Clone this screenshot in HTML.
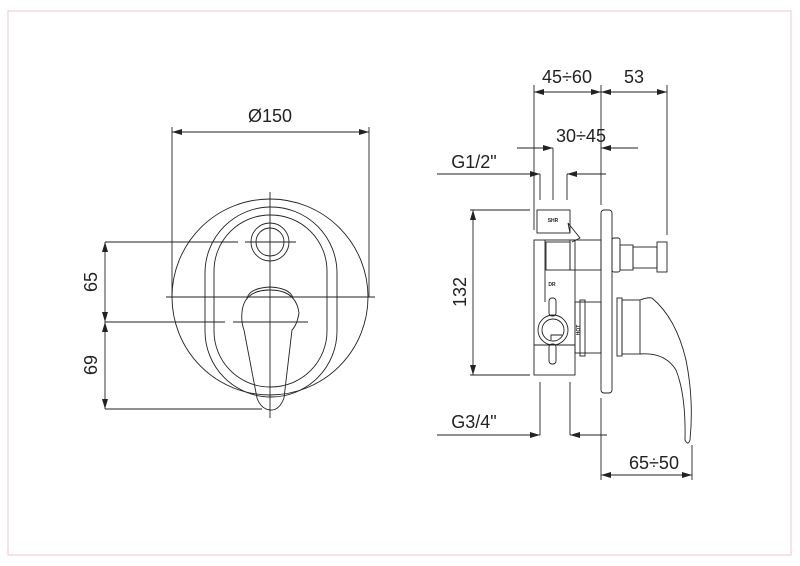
<!DOCTYPE html>
<html><head><meta charset="utf-8"><style>
html,body{margin:0;padding:0;background:#fff}
svg{display:block}
text{font-family:"Liberation Sans",sans-serif;fill:#222}
</style></head><body>
<svg width="800" height="566" viewBox="0 0 800 566" xmlns="http://www.w3.org/2000/svg">
<defs>
<marker id="a" viewBox="0 0 10 6" refX="10" refY="3" markerWidth="10" markerHeight="6" orient="auto-start-reverse" markerUnits="userSpaceOnUse"><path d="M0,0L10,3L0,6z" fill="#222"/></marker>
</defs>
<rect x="8" y="11" width="783" height="544" fill="none" stroke="#f2c4cf" stroke-width="1"/>
<g fill="none" stroke="#222" stroke-width="0.9">
<line x1="172" y1="127" x2="172" y2="297"/>
<line x1="369" y1="127" x2="369" y2="297"/>
<line x1="172" y1="132" x2="369" y2="132" marker-start="url(#a)" marker-end="url(#a)"/>
<circle cx="270" cy="297" r="98"/>
<rect x="205" y="207" width="132" height="190" rx="66"/>
<rect x="214" y="215" width="113" height="172" rx="56"/>
<circle cx="270" cy="242" r="19"/>
<circle cx="270" cy="242" r="14"/>
<line x1="270" y1="192" x2="270" y2="418"/>
<line x1="166" y1="297" x2="375" y2="297"/>
<line x1="105" y1="242" x2="238" y2="242"/>
<line x1="245" y1="242" x2="296" y2="242"/>
<line x1="105" y1="322" x2="225" y2="322"/>
<line x1="233" y1="322" x2="308" y2="322"/>
<line x1="105" y1="409" x2="262" y2="409"/>
<line x1="105" y1="242" x2="105" y2="322" marker-start="url(#a)" marker-end="url(#a)"/>
<line x1="105" y1="322" x2="105" y2="409" marker-start="url(#a)" marker-end="url(#a)"/>
<path d="M247,298 Q250,288 270,287 Q290,288 293,298"/>
<path d="M242,312 Q244,290 270,290 Q296,290 299,313 Q297,325 292,330 L284,398 Q279,411 270,410 Q261,409 257,398 L244,330 Q241,322 242,312Z"/>
<line x1="534" y1="85" x2="534" y2="230"/>
<line x1="601" y1="85" x2="601" y2="205"/>
<line x1="667" y1="85" x2="667" y2="235"/>
<line x1="534" y1="92" x2="601" y2="92" marker-start="url(#a)" marker-end="url(#a)"/>
<line x1="601" y1="92" x2="667" y2="92" marker-start="url(#a)" marker-end="url(#a)"/>
<line x1="517" y1="148" x2="553" y2="148" marker-end="url(#a)"/>
<line x1="638" y1="148" x2="601" y2="148" marker-end="url(#a)"/>
<line x1="553" y1="148" x2="553" y2="200"/>
<line x1="437" y1="174" x2="540" y2="174" marker-end="url(#a)"/>
<line x1="606" y1="174" x2="567" y2="174" marker-end="url(#a)"/>
<line x1="540" y1="174" x2="540" y2="200"/>
<line x1="567" y1="174" x2="567" y2="200"/>
<line x1="470" y1="210" x2="530" y2="210"/>
<line x1="470" y1="375" x2="530" y2="375"/>
<line x1="473" y1="210" x2="473" y2="375" marker-start="url(#a)" marker-end="url(#a)"/>
<line x1="437" y1="435" x2="540" y2="435" marker-end="url(#a)"/>
<line x1="607" y1="435" x2="570" y2="435" marker-end="url(#a)"/>
<line x1="540" y1="382" x2="540" y2="435"/>
<line x1="570" y1="382" x2="570" y2="435"/>
<line x1="601" y1="398" x2="601" y2="480"/>
<line x1="692" y1="445" x2="692" y2="480"/>
<line x1="601" y1="475" x2="692" y2="475" marker-start="url(#a)" marker-end="url(#a)"/>
<rect x="537" y="210" width="33" height="23"/>
<rect x="534" y="240" width="41" height="135"/>
<line x1="545" y1="240" x2="545" y2="302"/>
<path d="M570,233 L568,223 L580,238 L572,242"/>
<rect x="546" y="242" width="24" height="28"/>
<rect x="570" y="240" width="31" height="30"/>
<rect x="601" y="210" width="11" height="183" rx="3"/>
<rect x="612" y="238" width="8" height="34" rx="2"/>
<rect x="620" y="245" width="13" height="25"/>
<rect x="633" y="247" width="24" height="21"/>
<rect x="657" y="242" width="10" height="30"/>
<rect x="575" y="302" width="26" height="51"/>
<rect x="580" y="300" width="5" height="56"/>
<rect x="617" y="298" width="5" height="58"/>
<rect x="622" y="300" width="18" height="54"/>
<path d="M640,300 Q648,297 652,298 Q676,318 686,360 Q694,400 690,440 Q688,446 685,440 Q686,395 676,370 Q665,352 640,354"/>
<line x1="534" y1="345" x2="575" y2="345"/>
<rect x="549" y="298" width="7" height="18" rx="3"/>
<rect x="549" y="344" width="7" height="20" rx="3"/>
<circle cx="553" cy="330" r="15"/>
<circle cx="553" cy="330" r="11"/>
<path d="M551,340 L551,335 L562,335"/>
</g>
<text x="270" y="122" font-size="18" text-anchor="middle">Ø150</text>
<text x="0" y="0" font-size="18" text-anchor="middle" transform="translate(97,282) rotate(-90)">65</text>
<text x="0" y="0" font-size="18" text-anchor="middle" transform="translate(97,365) rotate(-90)">69</text>
<text x="567" y="83" font-size="18" text-anchor="middle">45÷60</text>
<text x="634" y="83" font-size="18" text-anchor="middle">53</text>
<text x="581" y="142" font-size="18" text-anchor="middle">30÷45</text>
<text x="474" y="168" font-size="18" text-anchor="middle">G1/2"</text>
<text x="0" y="0" font-size="18" text-anchor="middle" transform="translate(466,292) rotate(-90)">132</text>
<text x="474" y="428" font-size="18" text-anchor="middle">G3/4"</text>
<text x="654" y="469" font-size="18" text-anchor="middle">65÷50</text>
<text x="553" y="222" font-size="5" text-anchor="middle" font-weight="bold">SHR</text>
<text x="552" y="286" font-size="5" text-anchor="middle" font-weight="bold">DR</text>
<text x="0" y="0" font-size="5" text-anchor="middle" font-weight="bold" transform="translate(580,330) rotate(-90)">HOT</text>
</svg>
</body></html>
